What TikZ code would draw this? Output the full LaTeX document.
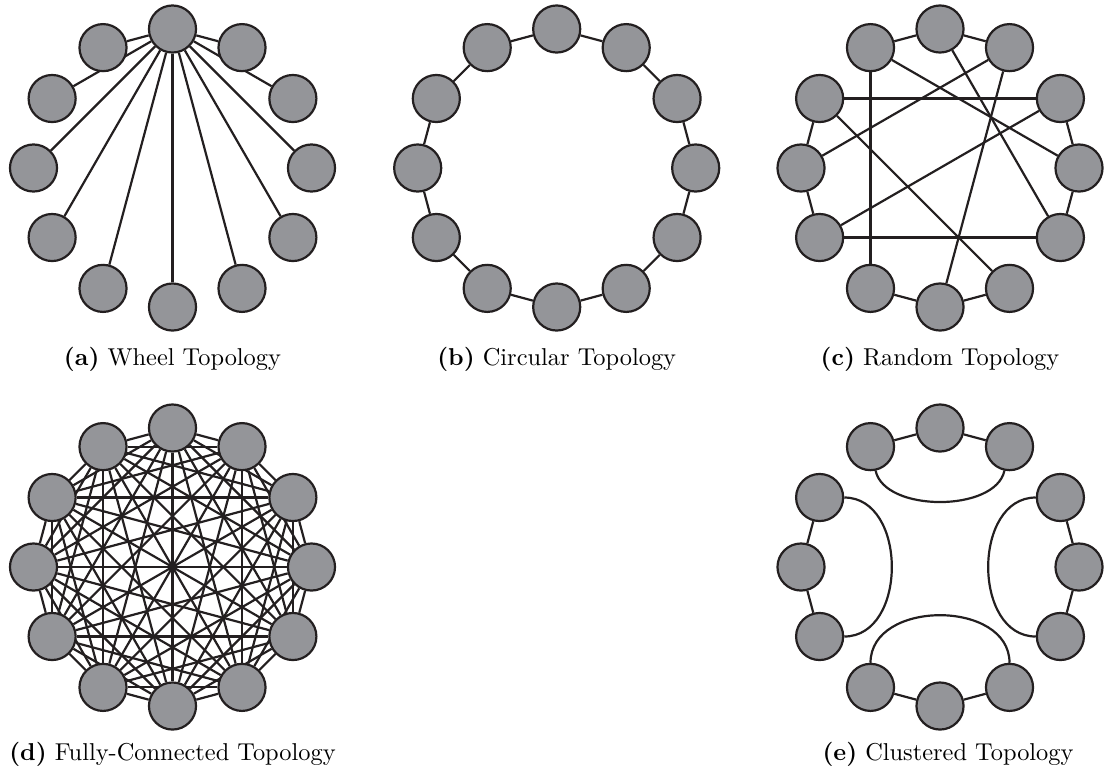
\documentclass[tikz,border=0pt]{standalone}
\usetikzlibrary{backgrounds}
\definecolor{nodefill}{RGB}{148,149,153}
\definecolor{ink}{RGB}{35,31,32}
% twelve vertices on a ring of radius 139 around (cx,cy); index 0 on top, clockwise
\newcommand\vertexring[3]{%
  \foreach \k in {0,...,11}
    \node[vertex] (#1\k) at ({#2+139*sin(30*\k)},{-#3+139*cos(30*\k)}) {};%
}
\begin{document}
\begin{tikzpicture}[x=0.41pt,y=0.41pt,
  vertex/.style={circle,draw=ink,fill=nodefill,line width=0.9pt,inner sep=0pt,minimum size=19.3pt},
  link/.style={draw=ink,line width=0.9pt},
  caplabel/.style={anchor=base,inner sep=0pt,font=\normalsize}]
\useasboundingbox (0,0) rectangle (1105,-774);

% vertices of the five graphs
\vertexring{a}{172.5}{168}
\vertexring{b}{556.7}{168}
\vertexring{c}{940}{168}
\vertexring{d}{172.5}{567}
\vertexring{e}{940}{567}

\begin{scope}[on background layer]
  % (a) wheel: hub on top joined to every other vertex
  \foreach \k in {1,...,11}
    \draw[link] (a0) -- (a\k);
  % (b) ring
  \foreach \k in {0,...,11}{
    \pgfmathtruncatemacro\n{mod(\k+1,12)}
    \draw[link] (b\k) -- (b\n);
  }
  % (c) random links
  \foreach \i/\j in {11/0,0/1,2/3,3/4,5/6,6/7,8/9,9/10,
                     10/2,8/4,11/7,11/3,0/4,1/9,1/6,10/5,2/8}
    \draw[link] (c\i) -- (c\j);
  % (d) complete graph
  \foreach \i in {0,...,10}{
    \pgfmathtruncatemacro\s{\i+1}
    \foreach \j in {\s,...,11}
      \draw[link] (d\i) -- (d\j);
  }
  % (e) four clusters of three, each closed by an inner arc
  \foreach \i/\j in {11/0,0/1,2/3,3/4,5/6,6/7,8/9,9/10}
    \draw[link] (e\i) -- (e\j);
  \draw[link] (e11) to[out=-78,in=-102,looseness=0.85] (e1);
  \draw[link] (e10) to[out=0,in=0,looseness=1.17] (e8);
  \draw[link] (e2) to[out=180,in=180,looseness=1.17] (e4);
  \draw[link] (e7) to[out=90,in=90,looseness=1.17] (e5);
\end{scope}

% captions
\node[caplabel] (capa) at (172.5,-365) {\textbf{(a)} Wheel Topology};
\node[caplabel] (capb) at (556.7,-365) {\textbf{(b)} Circular Topology};
\node[caplabel] (capc) at (940,-365) {\textbf{(c)} Random Topology};
\node[caplabel] (capd) at (172.5,-760) {\textbf{(d)} Fully-Connected Topology};
\node[caplabel] (cape) at (948,-760) {\textbf{(e)} Clustered Topology};
\end{tikzpicture}
\end{document}
